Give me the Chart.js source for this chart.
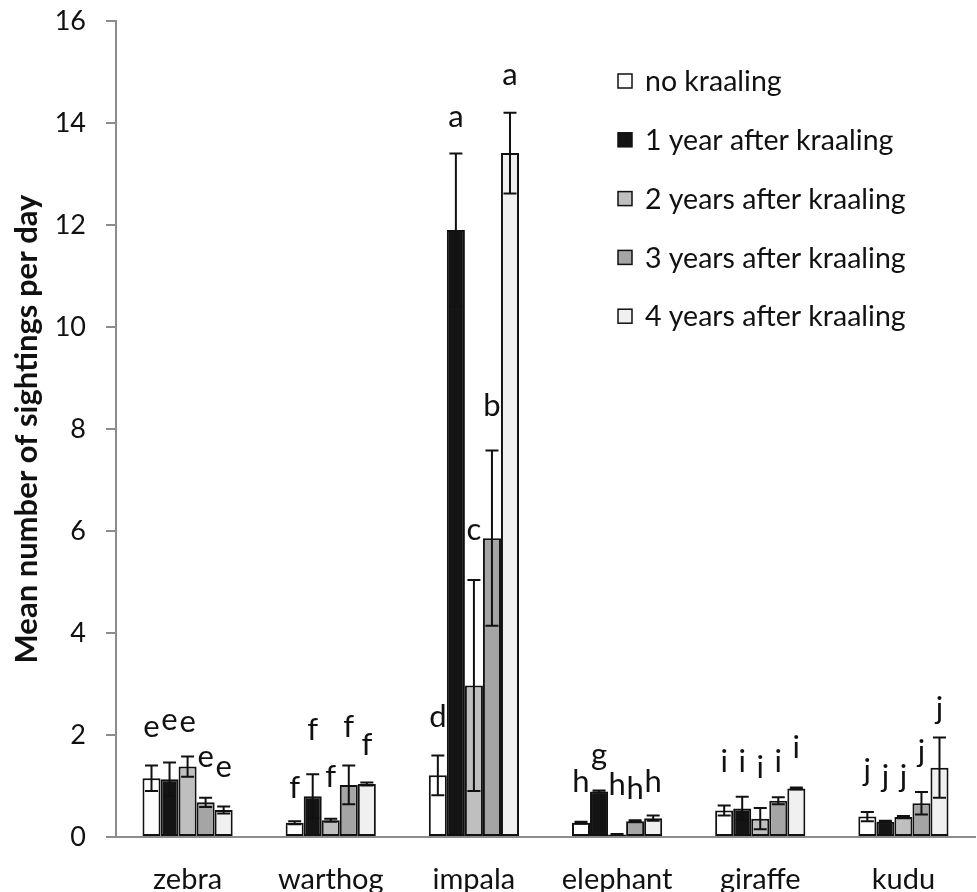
<!DOCTYPE html>
<html>
<head>
<meta charset="utf-8">
<script src="https://cdn.jsdelivr.net/npm/chart.js@4.4.1/dist/chart.umd.min.js"></script>
<style>
  html, body { margin: 0; padding: 0; background: #fff; }
  canvas { display: block; }
</style>
</head>
<body>
<canvas id="chart" width="977" height="892"></canvas>
<script>
/* ─── Data ───────────────────────────────────────────────── */
const categories   = ['zebra', 'warthog', 'impala', 'elephant', 'giraffe', 'kudu'];
const seriesLabels = ['no kraaling', '1 year after kraaling', '2 years after kraaling',
                      '3 years after kraaling', '4 years after kraaling'];

const noKraaling = [1.15, 0.28, 1.21, 0.28, 0.52, 0.40];
const year1      = [1.13, 0.80, 11.90, 0.89, 0.56, 0.30];
const year2      = [1.38, 0.33, 2.97, 0.05, 0.36, 0.39];
const year3      = [0.68, 1.02, 5.86, 0.31, 0.71, 0.66];
const year4      = [0.53, 1.04, 13.41, 0.37, 0.95, 1.36];

// standard errors (symmetric)
const noKraalingErr = [0.25, 0.03, 0.39, 0.02, 0.10, 0.09];
const year1Err      = [0.33, 0.43, 1.50, 0.02, 0.23, 0.02];
const year2Err      = [0.20, 0.03, 2.07, 0.01, 0.21, 0.02];
const year3Err      = [0.09, 0.38, 1.72, 0.02, 0.07, 0.22];
const year4Err      = [0.07, 0.03, 0.79, 0.05, 0.02, 0.59];

// significance letters and the value their baseline sits at
const noKraalingSig = ['e', 'f', 'd', 'h', 'i', 'j'];
const year1Sig      = ['e', 'f', 'a', 'g', 'i', 'j'];
const year2Sig      = ['e', 'f', 'c', 'h', 'i', 'j'];
const year3Sig      = ['e', 'f', 'b', 'h', 'i', 'j'];
const year4Sig      = ['e', 'f', 'a', 'h', 'i', 'j'];

const noKraalingSigAt = [1.96, 0.76, 2.16, 0.89, 1.28, 1.10];
const year1SigAt      = [2.09, 1.90, 13.93, 1.41, 1.28, 0.98];
const year2SigAt      = [2.06, 0.98, 5.83, 0.82, 1.15, 0.98];
const year3SigAt      = [1.38, 1.96, 8.26, 0.74, 1.28, 1.47];
const year4SigAt      = [1.17, 1.60, 14.75, 0.89, 1.54, 2.31];

const yTicks = [0, 2, 4, 6, 8, 10, 12, 14, 16];

/* ─── Styling ────────────────────────────────────────────── */
const FONT   = 'Lato, "Open Sans", sans-serif';
const AXIS   = '#8c8c8c';
const INK    = '#111';
const fills  = ['#ffffff', '#141414', '#bfbfbf', '#a5a5a5', '#f0f0f0'];

const values  = [noKraaling, year1, year2, year3, year4];
const errors  = [noKraalingErr, year1Err, year2Err, year3Err, year4Err];
const letters = [noKraalingSig, year1Sig, year2Sig, year3Sig, year4Sig];
const lettersAt = [noKraalingSigAt, year1SigAt, year2SigAt, year3SigAt, year4SigAt];

/* ─── Plugins ────────────────────────────────────────────── */
const errorBars = {
  id: 'errorBars',
  afterDatasetsDraw(chart) {
    const { ctx } = chart;
    const y = chart.scales.y;
    ctx.save();
    ctx.strokeStyle = INK;
    ctx.lineWidth = 2;
    chart.data.datasets.forEach((ds, i) => {
      chart.getDatasetMeta(i).data.forEach((bar, j) => {
        const v = ds.data[j], e = ds.err[j];
        const top = y.getPixelForValue(v + e);
        const bot = y.getPixelForValue(v - e);
        const cap = 6.5;
        ctx.beginPath();
        ctx.moveTo(bar.x, top); ctx.lineTo(bar.x, bot);
        ctx.moveTo(bar.x - cap, top); ctx.lineTo(bar.x + cap, top);
        ctx.moveTo(bar.x - cap, bot); ctx.lineTo(bar.x + cap, bot);
        ctx.stroke();
      });
    });
    ctx.restore();
  },
};

const sigLetters = {
  id: 'sigLetters',
  afterDatasetsDraw(chart) {
    const { ctx } = chart;
    const y = chart.scales.y;
    ctx.save();
    ctx.fillStyle = INK;
    ctx.font = '31px ' + FONT;
    ctx.textAlign = 'center';
    ctx.textBaseline = 'alphabetic';
    chart.data.datasets.forEach((ds, i) => {
      chart.getDatasetMeta(i).data.forEach((bar, j) => {
        ctx.fillText(ds.sig[j], bar.x, y.getPixelForValue(ds.sigAt[j]));
      });
    });
    ctx.restore();
  },
};

const boxLegend = {
  id: 'boxLegend',
  afterDraw(chart) {
    const { ctx } = chart;
    ctx.save();
    ctx.font = '28.5px ' + FONT;
    ctx.textBaseline = 'middle';
    ctx.textAlign = 'left';
    chart.data.datasets.forEach((ds, i) => {
      const cy = 81 + i * 58.8;
      ctx.fillStyle = ds.backgroundColor;
      ctx.fillRect(618, cy - 7, 14, 14);
      ctx.strokeStyle = INK;
      ctx.lineWidth = 1.5;
      ctx.strokeRect(618, cy - 7, 14, 14);
      ctx.fillStyle = INK;
      ctx.fillText(ds.label, 645, cy + 1);
    });
    ctx.restore();
  },
};

/* ─── Chart ──────────────────────────────────────────────── */
new Chart(document.getElementById('chart').getContext('2d'), {
  type: 'bar',
  data: {
    labels: categories,
    datasets: seriesLabels.map((label, i) => ({
      label,
      data: values[i],
      err: errors[i],
      sig: letters[i],
      sigAt: lettersAt[i],
      backgroundColor: fills[i],
      borderColor: INK,
      borderWidth: 2,
      borderSkipped: false,
      barPercentage: 1,
      categoryPercentage: 0.63,
    })),
  },
  options: {
    responsive: false,
    animation: false,
    layout: { padding: { top: 21, right: 2, bottom: 0, left: 0 } },
    plugins: {
      legend:  { display: false },
      tooltip: { enabled: false },
    },
    scales: {
      x: {
        grid:   { display: false, drawTicks: false },
        border: { display: true, color: AXIS, width: 2 },
        ticks:  { color: INK, font: { family: FONT, size: 29 }, padding: 25 },
        afterFit: s => { s.height = 55; s.paddingLeft = 0; s.paddingRight = 0; },
      },
      y: {
        min: 0,
        max: 16,
        afterBuildTicks: s => { s.ticks = yTicks.map(v => ({ value: v })); },
        grid:   { drawOnChartArea: false, drawTicks: true, tickLength: 10, color: AXIS, lineWidth: 2 },
        border: { display: true, color: AXIS, width: 2 },
        ticks:  { color: INK, font: { family: FONT, size: 27 }, padding: 20 },
        title:  {
          display: true,
          text: 'Mean number of sightings per day',
          color: INK,
          font: { family: FONT, size: 31, weight: 'bold' },
          padding: { top: 8, bottom: 0 },
        },
        afterFit: s => { s.width = 116; s.paddingTop = 0; s.paddingBottom = 0; },
      },
    },
  },
  plugins: [errorBars, sigLetters, boxLegend],
});
</script>
</body>
</html>
